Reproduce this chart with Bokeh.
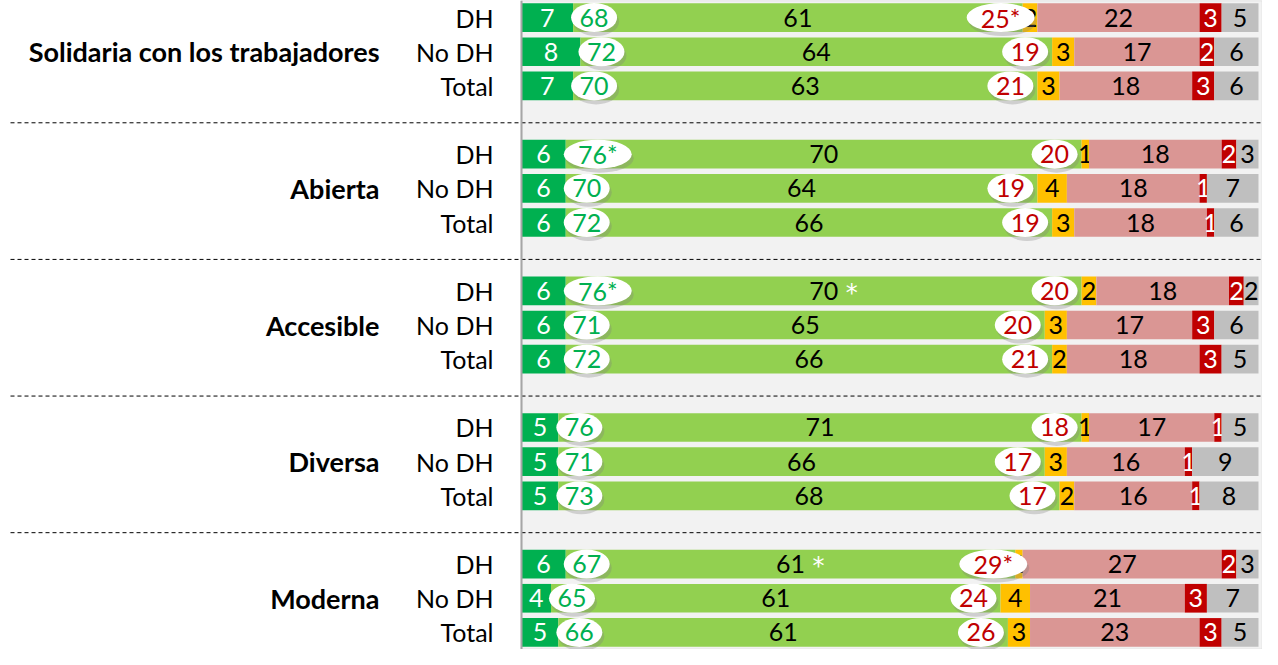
from bokeh.plotting import figure
from bokeh.models import ColumnDataSource, Range1d, Span
from bokeh.core.properties import value
from bokeh.embed import file_html
from bokeh.resources import INLINE

# ---------------- data ----------------
groups = ["Solidaria con los trabajadores", "Abierta", "Accesible", "Diversa", "Moderna"]
subgroups = ["DH", "No DH", "Total"]
muy_de_acuerdo = [7, 8, 7, 6, 6, 6, 6, 6, 6, 5, 5, 5, 6, 4, 5]
de_acuerdo = [61, 64, 63, 70, 64, 66, 70, 65, 66, 71, 66, 68, 61, 61, 61]
ni_ni = [2, 3, 3, 1, 4, 3, 2, 3, 2, 1, 3, 2, 1, 4, 3]
desacuerdo = [22, 17, 18, 18, 18, 18, 18, 17, 18, 17, 16, 16, 27, 21, 23]
muy_desacuerdo = [3, 2, 3, 2, 1, 1, 2, 3, 3, 1, 1, 1, 2, 3, 3]
ns_nc = [5, 6, 6, 3, 7, 6, 2, 6, 5, 5, 9, 8, 3, 7, 5]
total_acuerdo = ["68", "72", "70", "76*", "70", "72", "76*", "71", "72", "76", "71", "73", "67", "65", "66"]
total_desacuerdo = ["25*", "19", "21", "20", "19", "19", "20", "20", "21", "18", "17", "17", "29*", "24", "26"]
de_acuerdo_signif = [False, False, False, False, False, False, True, False, False, False, False, False, True, False, False]

# ---------------- style ----------------
FONT = value("Lato")
FS = "25px"
FS_BOLD = "27px"
colors = ["#00B050", "#92D050", "#FFC000", "#DA9694", "#C00000", "#BFBFBF"]
label_colors = ["white", "black", "black", "black", "white", "black"]
W, H = 1262, 649
X0_PX = 521      # pixel of x=0 inside the figure
X100_PX = 1258   # pixel of x=100
PX = 100.0 / (X100_PX - X0_PX)  # data units per pixel
x_start = -X0_PX * PX
x_end = 100 + (W - X100_PX) * PX
n_slots = 4 * len(groups) - 1
SLOT_PX = H / n_slots
PY = 1.0 / SLOT_PX

p = figure(width=W, height=H, x_range=Range1d(x_start, x_end),
           y_range=Range1d(n_slots - 0.5, -0.5),
           output_backend="svg", toolbar_location=None, min_border=0,
           x_axis_location=None, y_axis_location=None)
p.grid.visible = False
p.outline_line_color = None
p.background_fill_color = "white"
p.border_fill_color = "white"

# plot-area background
p.quad(left=[0], right=[x_end], bottom=[n_slots - 0.5], top=[-0.5],
       fill_color="#F2F2F2", line_color="#D9D9D9", line_width=1.5)

# rows
ys = []
for g in range(len(groups)):
    for r in range(len(subgroups)):
        ys.append(4 * g + r)

series = [muy_de_acuerdo, de_acuerdo, ni_ni, desacuerdo, muy_desacuerdo, ns_nc]
lefts = [0.0] * len(ys)
for k, s in enumerate(series):
    rights = [l + v for l, v in zip(lefts, s)]
    src = ColumnDataSource(dict(y=ys, left=lefts, right=rights))
    p.hbar(y="y", left="left", right="right", height=0.84, source=src,
           fill_color=colors[k], line_color=None)
    lsrc = ColumnDataSource(dict(x=[(l + rr) / 2 for l, rr in zip(lefts, rights)], y=ys,
                                 t=[str(v) for v in s]))
    p.text(x="x", y="y", text="t", source=lsrc, text_font=FONT, text_font_size=FS,
           text_color=label_colors[k], text_align="center", text_baseline="middle")
    lefts = rights

# significance star next to "de acuerdo" labels
sx, sy = [], []
for i, flag in enumerate(de_acuerdo_signif):
    if flag:
        sx.append(muy_de_acuerdo[i] + de_acuerdo[i] / 2)
        sy.append(ys[i])
p.text(x=sx, y=sy, text=["*"] * len(sx), x_offset=28, y_offset=2, text_font=value("DejaVu Sans"),
       text_font_size="24px", text_color="white", text_align="center", text_baseline="middle")

# ellipses with totals
def ell_w(t):
    return 68 if len(t) > 2 else 46

gx, rx, gw, rw = [], [], [], []
for i in range(len(ys)):
    dg_end = muy_de_acuerdo[i]
    w = ell_w(total_acuerdo[i])
    gw.append(w)
    gx.append(dg_end + (w / 2 - 2) * PX)
    g_end = muy_de_acuerdo[i] + de_acuerdo[i]
    w2 = ell_w(total_desacuerdo[i])
    rw.append(w2)
    right_edge = g_end + (12 if len(total_desacuerdo[i]) > 2 else -4) * PX
    rx.append(right_edge - w2 / 2 * PX)

for xs, ws, texts, tcol in [(gx, gw, total_acuerdo, "#00B050"), (rx, rw, total_desacuerdo, "#C00000")]:
    shadow = ColumnDataSource(dict(x=[v + 2 * PX for v in xs], y=[v + 4 * PY for v in ys], w=ws))
    p.ellipse(x="x", y="y", width="w", height=29, width_units="screen", height_units="screen",
              source=shadow, fill_color="#7F7F7F", fill_alpha=0.3, line_color=None)
    src = ColumnDataSource(dict(x=xs, y=ys, w=ws, t=texts))
    p.ellipse(x="x", y="y", width="w", height=29, width_units="screen", height_units="screen",
              source=src, fill_color="white", line_color=None)
    p.text(x="x", y="y", text="t", source=src, text_font=FONT, text_font_size=FS,
           text_color=tcol, text_align="center", text_baseline="middle")

# left axis line
p.add_layout(Span(location=0, dimension="height", line_color="#A6A6A6", line_width=2))

# sub labels and group labels
sub_src = ColumnDataSource(dict(x=[0] * len(ys), y=ys,
                                t=[subgroups[r] for g in range(len(groups)) for r in range(len(subgroups))]))
p.text(x="x", y="y", text="t", source=sub_src, x_offset=-28, text_font=FONT, text_font_size=FS,
       text_color="black", text_align="right", text_baseline="middle")
grp_src = ColumnDataSource(dict(x=[0] * len(groups), y=[4 * g + 1 for g in range(len(groups))], t=groups))
p.text(x="x", y="y", text="t", source=grp_src, x_offset=-142, text_font=FONT, text_font_size=FS_BOLD,
       text_font_style="bold", text_color="black", text_align="right", text_baseline="middle")

# dashed separators between groups
sep_y = [4 * g + 3 + 0.08 for g in range(len(groups) - 1)]
p.segment(x0=[x_start + 10 * PX] * len(sep_y), x1=[x_end] * len(sep_y), y0=sep_y, y1=sep_y,
          line_color="black", line_width=1, line_dash="4 3")

open("out.html", "w").write(file_html(p, INLINE))
